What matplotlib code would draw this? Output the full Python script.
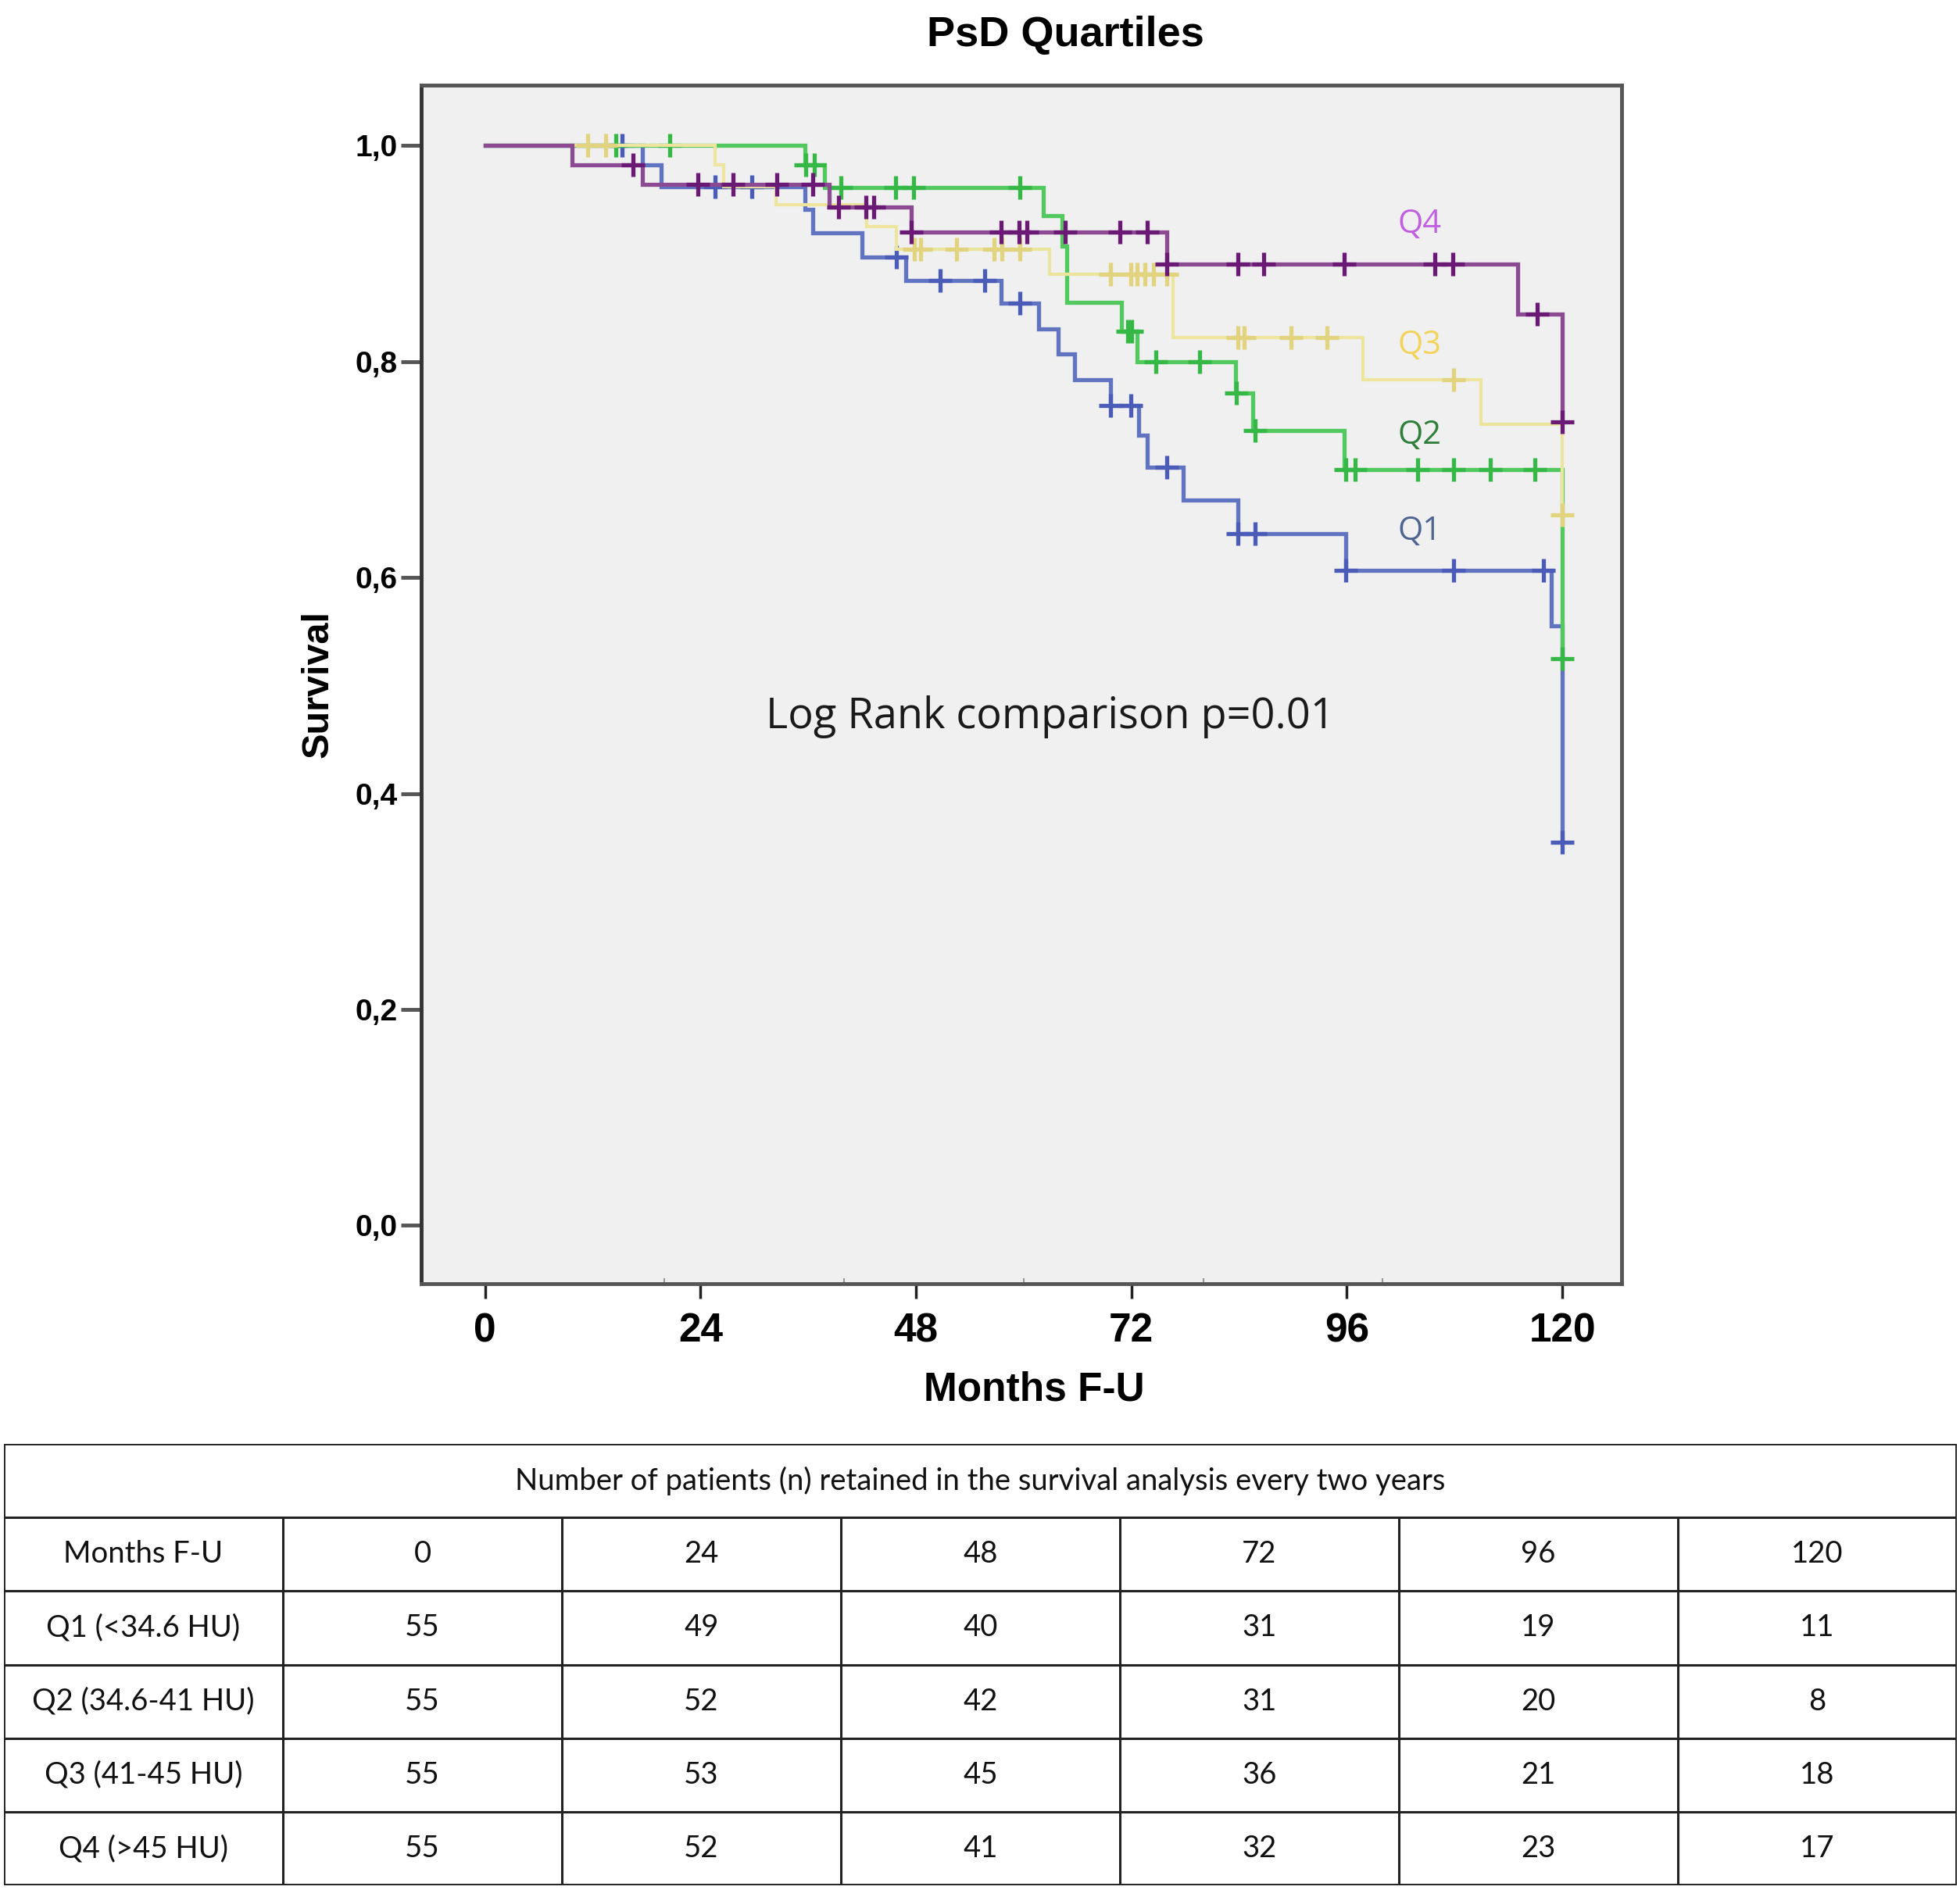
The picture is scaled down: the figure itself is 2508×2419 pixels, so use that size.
import numpy as np
import matplotlib
matplotlib.use('Agg')
from matplotlib import pyplot as plt

# Kaplan-Meier steps (months, survival after the step)
q1_times = [0, 17.5, 19.6, 35.6, 36.5, 42.0, 46.9, 57.5, 61.7, 63.8, 65.7, 69.7, 72.8, 73.8, 77.8, 83.9, 95.9, 118.8, 120]
q1_surv = [1.0, 0.982, 0.962, 0.941, 0.919, 0.897, 0.875, 0.854, 0.830, 0.807, 0.783, 0.759, 0.732, 0.702, 0.672, 0.641, 0.607, 0.555, 0.355]
q1_cens = [15.3, 25.6, 29.7, 45.8, 50.7, 55.7, 59.6, 69.7, 71.9, 75.9, 83.9, 85.8, 95.9, 107.9, 117.9, 120]

q2_times = [0, 35.6, 37.8, 62.2, 64.3, 64.8, 70.9, 72.6, 83.6, 85.5, 95.7, 120]
q2_surv = [1.0, 0.982, 0.961, 0.935, 0.907, 0.855, 0.828, 0.800, 0.771, 0.736, 0.700, 0.525]
q2_cens = [14.6, 20.6, 35.7, 36.7, 39.6, 45.7, 47.7, 59.6, 71.6, 72.0, 74.7, 79.6, 83.7, 85.8, 95.9, 96.9,
           103.9, 107.9, 112.0, 116.9, 120]

q3_times = [0, 25.6, 26.6, 32.4, 42.5, 45.8, 62.9, 76.6, 97.8, 110.9, 120]
q3_surv = [1.0, 0.982, 0.962, 0.945, 0.925, 0.904, 0.881, 0.822, 0.783, 0.742, 0.658]
q3_cens = [11.4, 13.4, 47.8, 48.5, 52.5, 56.7, 57.6, 59.6, 69.7, 71.9, 72.6, 73.5, 74.5, 75.9, 83.9, 84.6,
           89.8, 93.8, 107.9, 120]

q4_times = [0, 9.7, 17.5, 38.3, 47.5, 75.9, 115.0, 120]
q4_surv = [1.0, 0.982, 0.964, 0.943, 0.920, 0.890, 0.844, 0.744]
q4_cens = [16.5, 23.7, 27.6, 32.5, 36.5, 39.4, 42.4, 43.3, 47.5, 57.5, 59.5, 60.4, 64.6, 70.7, 73.8, 75.9,
           83.9, 86.7, 95.7, 105.8, 107.8, 117.2, 120]

group_names = ['Q1', 'Q2', 'Q3', 'Q4']
line_colors = ['#6074c2', '#52c95f', '#ede59e', '#8c4a92']
mark_colors = ['#4a5cb8', '#35b845', '#e2d47e', '#6a1a75']
label_colors = ['#4f6490', '#2f7f3a', '#f2d45a', '#c060e0']
label_pos = [(101.7, 0.643), (101.7, 0.732), (101.7, 0.815), (101.7, 0.927)]

x_ticks = [0, 24, 48, 72, 96, 120]
y_ticks = [0.0, 0.2, 0.4, 0.6, 0.8, 1.0]
y_ticklabels = ['0,0', '0,2', '0,4', '0,6', '0,8', '1,0']

# numbers at risk table
table_title = 'Number of patients (n) retained in the survival analysis every two years'
table_cols = ['Months F-U', '0', '24', '48', '72', '96', '120']
row_labels = ['Q1 (<34.6 HU)', 'Q2 (34.6-41 HU)', 'Q3 (41-45 HU)', 'Q4 (>45 HU)']
at_risk_q1 = [55, 49, 40, 31, 19, 11]
at_risk_q2 = [55, 52, 42, 31, 20, 8]
at_risk_q3 = [55, 53, 45, 36, 21, 18]
at_risk_q4 = [55, 52, 41, 32, 23, 17]

W, H = 2508, 2419
fig = plt.figure(figsize=(W / 100, H / 100), dpi=100)
bold = dict(family='Liberation Sans', fontweight='bold')

ax = fig.add_axes([539 / W, 1 - 1643 / H, (2075 - 539) / W, (1643 - 109) / H])
ax.set_facecolor('#f0f0f0')

curves = [(q1_times, q1_surv, q1_cens), (q2_times, q2_surv, q2_cens),
          (q3_times, q3_surv, q3_cens), (q4_times, q4_surv, q4_cens)]
for i, (t, s, c) in enumerate(curves):
    t = np.array(t)
    s = np.array(s)
    lw = 3.0 if i == 2 else 3.8
    ax.step(t, s, where='post', color=line_colors[i], lw=lw, zorder=2 + i, solid_joinstyle='miter')
    idx = np.searchsorted(t, c, side='right') - 1
    ax.plot(c, s[idx], ls='none', marker='+', ms=21, mew=3.8, color=mark_colors[i], zorder=2 + i)
    ax.text(label_pos[i][0], label_pos[i][1], group_names[i], color=label_colors[i],
            fontsize=30, family='Open Sans', ha='left', va='center')

ax.text(63.0, 0.471, 'Log Rank comparison p=0.01', fontsize=39, family='Open Sans',
        ha='center', va='center', color='#1a1a1a')

ax.set_xlim(-7.1, 126.6)
ax.set_ylim(-0.054, 1.056)
ax.set_xticks(x_ticks)
ax.set_xticklabels([str(v) for v in x_ticks], fontsize=37, **bold)
ax.set_xticks([20, 40, 60, 80, 100], minor=True)
ax.set_yticks(y_ticks)
ax.set_yticklabels(y_ticklabels, fontsize=28, **bold)
ax.tick_params(axis='x', which='major', direction='out', length=14, width=2.5, color='#222222', pad=12)
ax.tick_params(axis='x', which='minor', direction='in', length=5, width=1.5, color='#999999')
ax.tick_params(axis='y', which='major', direction='out', length=19, width=3.5, color='#555555', pad=3)
for sp in ax.spines.values():
    sp.set_linewidth(3.5)
    sp.set_color('#555555')
ax.spines['left'].set_color('#333333')

ax.set_xlabel('Months F-U', fontsize=37, **bold)
ax.xaxis.set_label_coords((1323 - 539) / 1536, -0.073)
ax.set_ylabel('Survival', fontsize=35, labelpad=18, **bold)

fig.text(1363 / W, 1 - 45 / H, 'PsD Quartiles', ha='center', va='center', fontsize=39, **bold)

# table of patients at risk
tax = fig.add_axes([5 / W, 1 - 2413 / H, 2499 / W, 565 / H])
tax.set_xlim(0, 7)
tax.set_ylim(6, 0)
tax.axis('off')
tax.hlines([0, 6], 0, 7, color='#222222', lw=2.8)
tax.vlines([0, 7], 0, 6, color='#222222', lw=2.8)
tax.hlines([1, 2, 3, 4, 5], 0, 7, color='#222222', lw=2.2)
tax.vlines([1, 2, 3, 4, 5, 6], 1, 6, color='#222222', lw=2.2)

tfont = dict(family='Lato', fontsize=27.5, ha='center', va='center', color='#111111')
tax.text(3.5, 0.5, table_title, **tfont)
for j, lab in enumerate(table_cols):
    tax.text(j + 0.5, 1.5, lab, **tfont)
for r, (lab, vals) in enumerate(zip(row_labels, [at_risk_q1, at_risk_q2, at_risk_q3, at_risk_q4])):
    tax.text(0.5, r + 2.5, lab, **tfont)
    for j, v in enumerate(vals):
        tax.text(j + 1.5, r + 2.5, str(v), **tfont)

fig.savefig('out.png', dpi=100, facecolor='white')
